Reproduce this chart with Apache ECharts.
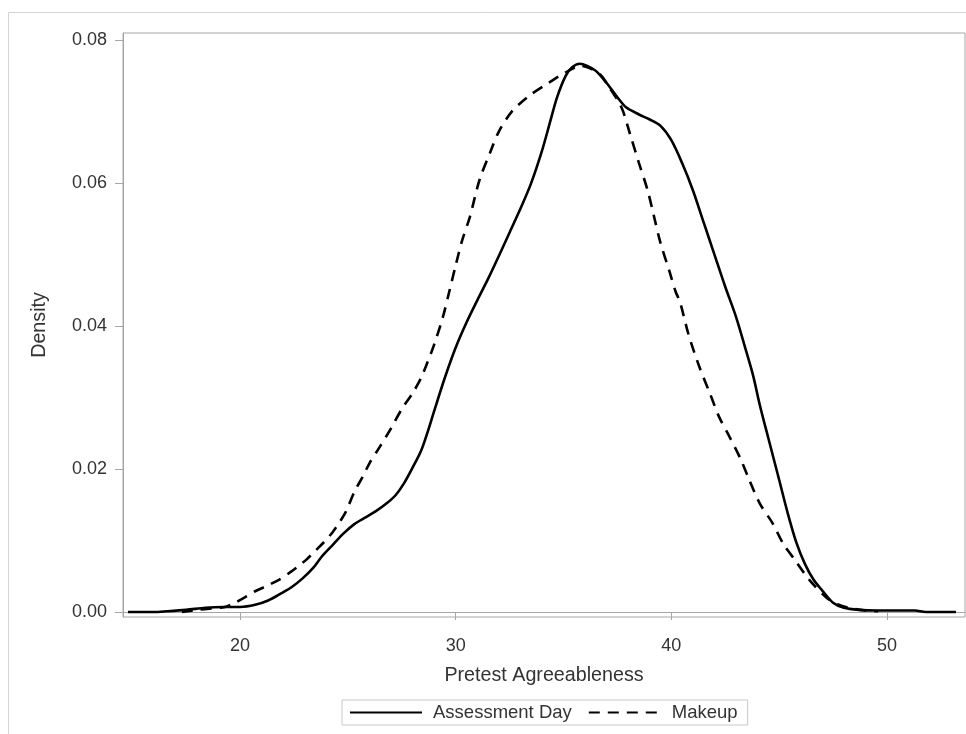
<!DOCTYPE html>
<html>
<head>
<meta charset="utf-8">
<script src="https://cdn.jsdelivr.net/npm/echarts@6/dist/echarts.min.js"></script>
<style>
html,body{margin:0;padding:0;background:#fff;}
#chart{width:966px;height:734px;}
</style>
</head>
<body>
<div id="chart"></div>
<script>
// ---- Data ----
var seriesNames = ['Assessment Day', 'Makeup'];
var xTicks = [20, 30, 40, 50];
var yTicks = [0, 0.02, 0.04, 0.06, 0.08];

// Assessment Day density: [pretest agreeableness, density]
var assessmentDay = [
  [14.8,0],[16.0,0],[16.6,0.0001],[17.5,0.0003],[18.4,0.0006],[19.2,0.0007],[20.0,0.0007],
  [20.7,0.0010],[21.3,0.0016],[21.9,0.0026],[22.4,0.0035],[22.9,0.0047],[23.4,0.0062],
  [23.8,0.0078],[24.3,0.0094],[24.8,0.0110],[25.3,0.0123],[25.8,0.0132],[26.3,0.0141],
  [26.8,0.0152],[27.2,0.0163],[27.6,0.0180],[28.0,0.0202],[28.4,0.0226],[28.7,0.0252],
  [29.0,0.0281],[29.5,0.0328],[30.0,0.0370],[30.5,0.0405],[31.0,0.0436],[31.5,0.0466],
  [32.0,0.0498],[32.5,0.0531],[33.0,0.0564],[33.5,0.0600],[34.0,0.0645],[34.4,0.0688],
  [34.7,0.0720],[35.1,0.0750],[35.4,0.0762],[35.75,0.0767],[36.1,0.0764],[36.5,0.0757],
  [37.0,0.0740],[37.5,0.0720],[37.9,0.0706],[38.5,0.0696],[39.0,0.0689],[39.5,0.0680],
  [40.0,0.0660],[40.5,0.0628],[41.0,0.0590],[41.5,0.0545],[42.0,0.0500],[42.5,0.0455],
  [43.0,0.0413],[43.5,0.0362],[43.8,0.0330],[44.1,0.0290],[44.5,0.0243],[45.0,0.0185],
  [45.4,0.0138],[45.8,0.0097],[46.2,0.0067],[46.6,0.0045],[47.0,0.0030],[47.5,0.0013],
  [48.0,0.0006],[48.7,0.0003],[49.5,0.0002],[50.5,0.0002],[51.3,0.0002],[51.8,0.0],[53.2,0.0]
];

// Makeup density: [pretest agreeableness, density]
var makeup = [
  [17.3,0],[18.0,0.0003],[18.7,0.0005],[19.3,0.0007],[19.7,0.0012],[20.2,0.0020],[20.7,0.0029],
  [21.2,0.0036],[21.8,0.0045],[22.3,0.0055],[22.7,0.0064],[23.1,0.0074],[23.5,0.0086],
  [23.9,0.0098],[24.3,0.0112],[24.6,0.0125],[24.9,0.0140],[25.3,0.0168],[25.7,0.0190],
  [26.0,0.0208],[26.5,0.0232],[27.0,0.0257],[27.5,0.0284],[28.0,0.0306],[28.4,0.0328],
  [28.7,0.0350],[29.0,0.0374],[29.4,0.0412],[29.7,0.0448],[30.0,0.0485],[30.3,0.0520],
  [30.65,0.0552],[31.1,0.0604],[31.6,0.0643],[32.0,0.0672],[32.6,0.0700],[33.4,0.0722],
  [34.3,0.0740],[35.1,0.0755],[35.8,0.0764],[36.2,0.0761],[36.7,0.0752],[37.1,0.0735],
  [37.7,0.0705],[38.1,0.0667],[38.5,0.0628],[38.9,0.0590],[39.2,0.0553],[39.5,0.0516],
  [39.9,0.0478],[40.2,0.0448],[40.4,0.0434],[40.8,0.0388],[41.3,0.0343],[41.8,0.0305],
  [42.2,0.0274],[42.7,0.0245],[43.2,0.0215],[43.6,0.0186],[44.1,0.0152],[44.7,0.0124],
  [45.2,0.0095],[45.8,0.0070],[46.4,0.0045],[47.2,0.0020],[47.7,0.0011],[48.2,0.0006],
  [49.0,0.0002],[49.6,0.0001]
];

// ---- Chart ----
var FONT = '"Liberation Sans", Arial, sans-serif';
var TXT = '#333333';
var FRAME = '#a6a6a6';

var chart = echarts.init(document.getElementById('chart'), null, {renderer: 'canvas'});
chart.setOption({
  animation: false,
  backgroundColor: '#ffffff',
  textStyle: {fontFamily: FONT},
  graphic: [{
    type: 'rect',
    shape: {x: 8.5, y: 12.5, width: 1000, height: 800},
    style: {fill: 'none', stroke: '#d4d4d4', lineWidth: 1},
    silent: true, z: -10
  }],
  grid: {
    left: 123, top: 33, right: 1, bottom: 117,
    show: true, borderColor: FRAME, borderWidth: 1, backgroundColor: 'transparent'
  },
  legend: {
    data: seriesNames,
    left: 342,
    top: 700,
    orient: 'horizontal',
    padding: [3, 10, 3, 7],
    itemGap: 16,
    itemWidth: 72,
    itemHeight: 12,
    borderColor: '#c8c8c8',
    borderWidth: 1,
    borderRadius: 0,
    itemStyle: {opacity: 0, borderWidth: 0},
    textStyle: {fontSize: 18.5, color: TXT, fontFamily: FONT, padding: [0, 0, 0, 6]}
  },
  xAxis: {
    type: 'value',
    min: 14.57, max: 53.62,
    name: 'Pretest Agreeableness',
    nameLocation: 'middle',
    nameGap: 49,
    nameTextStyle: {fontSize: 19.7, color: TXT, fontFamily: FONT},
    axisLine: {show: true, lineStyle: {color: FRAME, width: 1}},
    axisTick: {show: true, length: 8, lineStyle: {color: FRAME}, customValues: xTicks},
    axisLabel: {show: true, fontSize: 18, color: TXT, margin: 20, customValues: xTicks,
      formatter: function (v) { return String(v); }},
    splitLine: {show: false}
  },
  yAxis: {
    type: 'value',
    min: -0.0007, max: 0.081,
    name: 'Density',
    nameLocation: 'middle',
    nameGap: 73,
    nameTextStyle: {fontSize: 19.7, color: TXT, fontFamily: FONT},
    axisLine: {show: true, lineStyle: {color: FRAME, width: 1}},
    axisTick: {show: true, length: 8, lineStyle: {color: FRAME}, customValues: yTicks},
    axisLabel: {show: true, fontSize: 18, color: TXT, margin: 16, customValues: yTicks,
      formatter: function (v) { return v.toFixed(2); }},
    splitLine: {show: false}
  },
  series: [
    {
      name: seriesNames[0], type: 'line', data: assessmentDay,
      showSymbol: false, symbol: 'none', smooth: 0.3,
      lineStyle: {color: '#000000', width: 2.6, type: 'solid'},
      itemStyle: {color: '#000000'}
    },
    {
      name: seriesNames[1], type: 'line', data: makeup,
      showSymbol: false, symbol: 'none', smooth: 0.3,
      lineStyle: {color: '#000000', width: 2.6, type: [11, 8]},
      itemStyle: {color: '#000000'}
    }
  ]
});
</script>
</body>
</html>
